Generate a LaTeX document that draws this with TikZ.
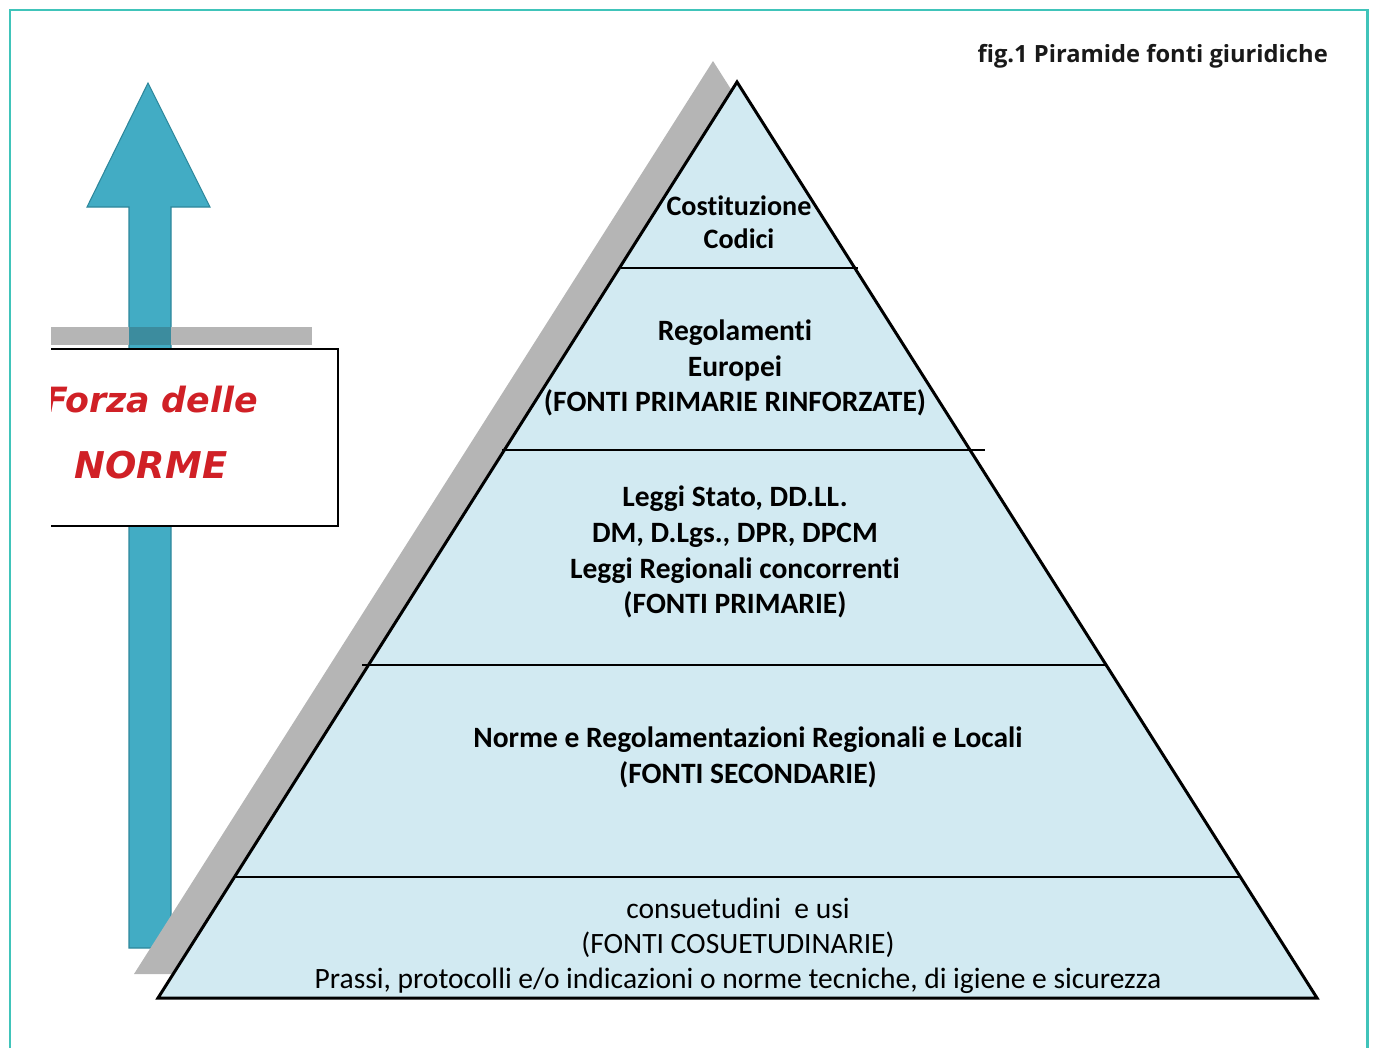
\documentclass[tikz,border=0pt]{standalone}
\usepackage{fontspec}
\setmainfont{Carlito}[Ligatures=NoCommon]
\newfontfamily\capfont{Open Sans}
\newfontfamily\signfont{DejaVu Sans Bold Oblique}

\definecolor{frameteal}{RGB}{64,196,186}
\definecolor{arrowteal}{RGB}{66,172,196}
\definecolor{arrowedge}{RGB}{45,135,155}
\definecolor{arrowdark}{RGB}{60,140,158}
\definecolor{layerblue}{RGB}{210,234,242}
\definecolor{signred}{RGB}{208,32,38}

\tikzset{
  layertext/.style={align=center,text=black,font=\fontsize{16.8}{20.4}\selectfont\bfseries},
  basetext/.style={align=center,text=black,font=\fontsize{16.8}{20.0}\selectfont},
  divider/.style={line width=1.5pt},
  signtext/.style={text=signred,font=\signfont\fontsize{21}{21}\selectfont}
}

\begin{document}
\begin{tikzpicture}[x=0.02cm,y=-0.02cm]
  \useasboundingbox (0,0) rectangle (1375,1048);
  \draw[frameteal,line width=1.7pt] (10,1048) -- (10,10) -- (1367,10) -- (1367,1048);

  % arrow, bar and sign on the left
  \fill[arrowteal,draw=arrowedge,line width=0.6pt]
    (129,948) -- (129,207) -- (87,207) -- (148,83) -- (210,207) -- (171,207) -- (171,948) -- cycle;
  \fill[gray!58] (51,327) rectangle (312,345);
  \fill[arrowdark] (129,327) rectangle (171,345);
  \begin{scope}
    \clip (51,300) rectangle (400,540);
    \draw[fill=white,line width=1.2pt] (20,349) rectangle (338,526);
    \node[signtext,font=\signfont\fontsize{19.8}{21}\selectfont] (forza) at (151,400) {Forza delle};
    \node[signtext] (norme) at (151,465) {NORME};
  \end{scope}

  % pyramid with its shadow
  \coordinate (apex) at (737,82);
  \coordinate (bl) at (158,998);
  \coordinate (br) at (1317,998);
  \fill[gray!58] ([shift={(-24,-21)}]apex) -- ([shift={(-24,-24)}]bl) -- ([shift={(-24,-24)}]br) -- cycle;
  \fill[layerblue,draw=black,line width=1.7pt,line join=miter] (apex) -- (bl) -- (br) -- cycle;
  \draw[divider] (621,268) -- (858,268);
  \draw[divider] (502,450) -- (985,450);
  \draw[divider] (362,665) -- (1107,665);
  \draw[divider] (234,877) -- (1240,877);

  \node[layertext,font=\fontsize{16}{19}\selectfont\bfseries] (vertice) at (739,222) {Costituzione\\Codici};
  \node[layertext] (rinforzate) at (735,368) {Regolamenti\\Europei\\(FONTI PRIMARIE RINFORZATE)};
  \node[layertext] (primarie) at (735,552) {Leggi Stato, DD.LL.\\DM, D.Lgs., DPR, DPCM\\Leggi Regionali concorrenti\\(FONTI PRIMARIE)};
  \node[layertext] (secondarie) at (748,757) {Norme e Regolamentazioni Regionali e Locali\\(FONTI SECONDARIE)};
  \node[basetext] (consuetudini) at (738,946) {consuetudini\ \ e usi\\(FONTI COSUETUDINARIE)\\Prassi, protocolli e/o indicazioni o norme tecniche, di igiene e sicurezza};

  \node[anchor=east,font=\capfont\bfseries\fontsize{13.5}{16}\selectfont,text=black!90] (titolo) at (1334,56) {fig.1 Piramide fonti giuridiche};
\end{tikzpicture}
\end{document}
